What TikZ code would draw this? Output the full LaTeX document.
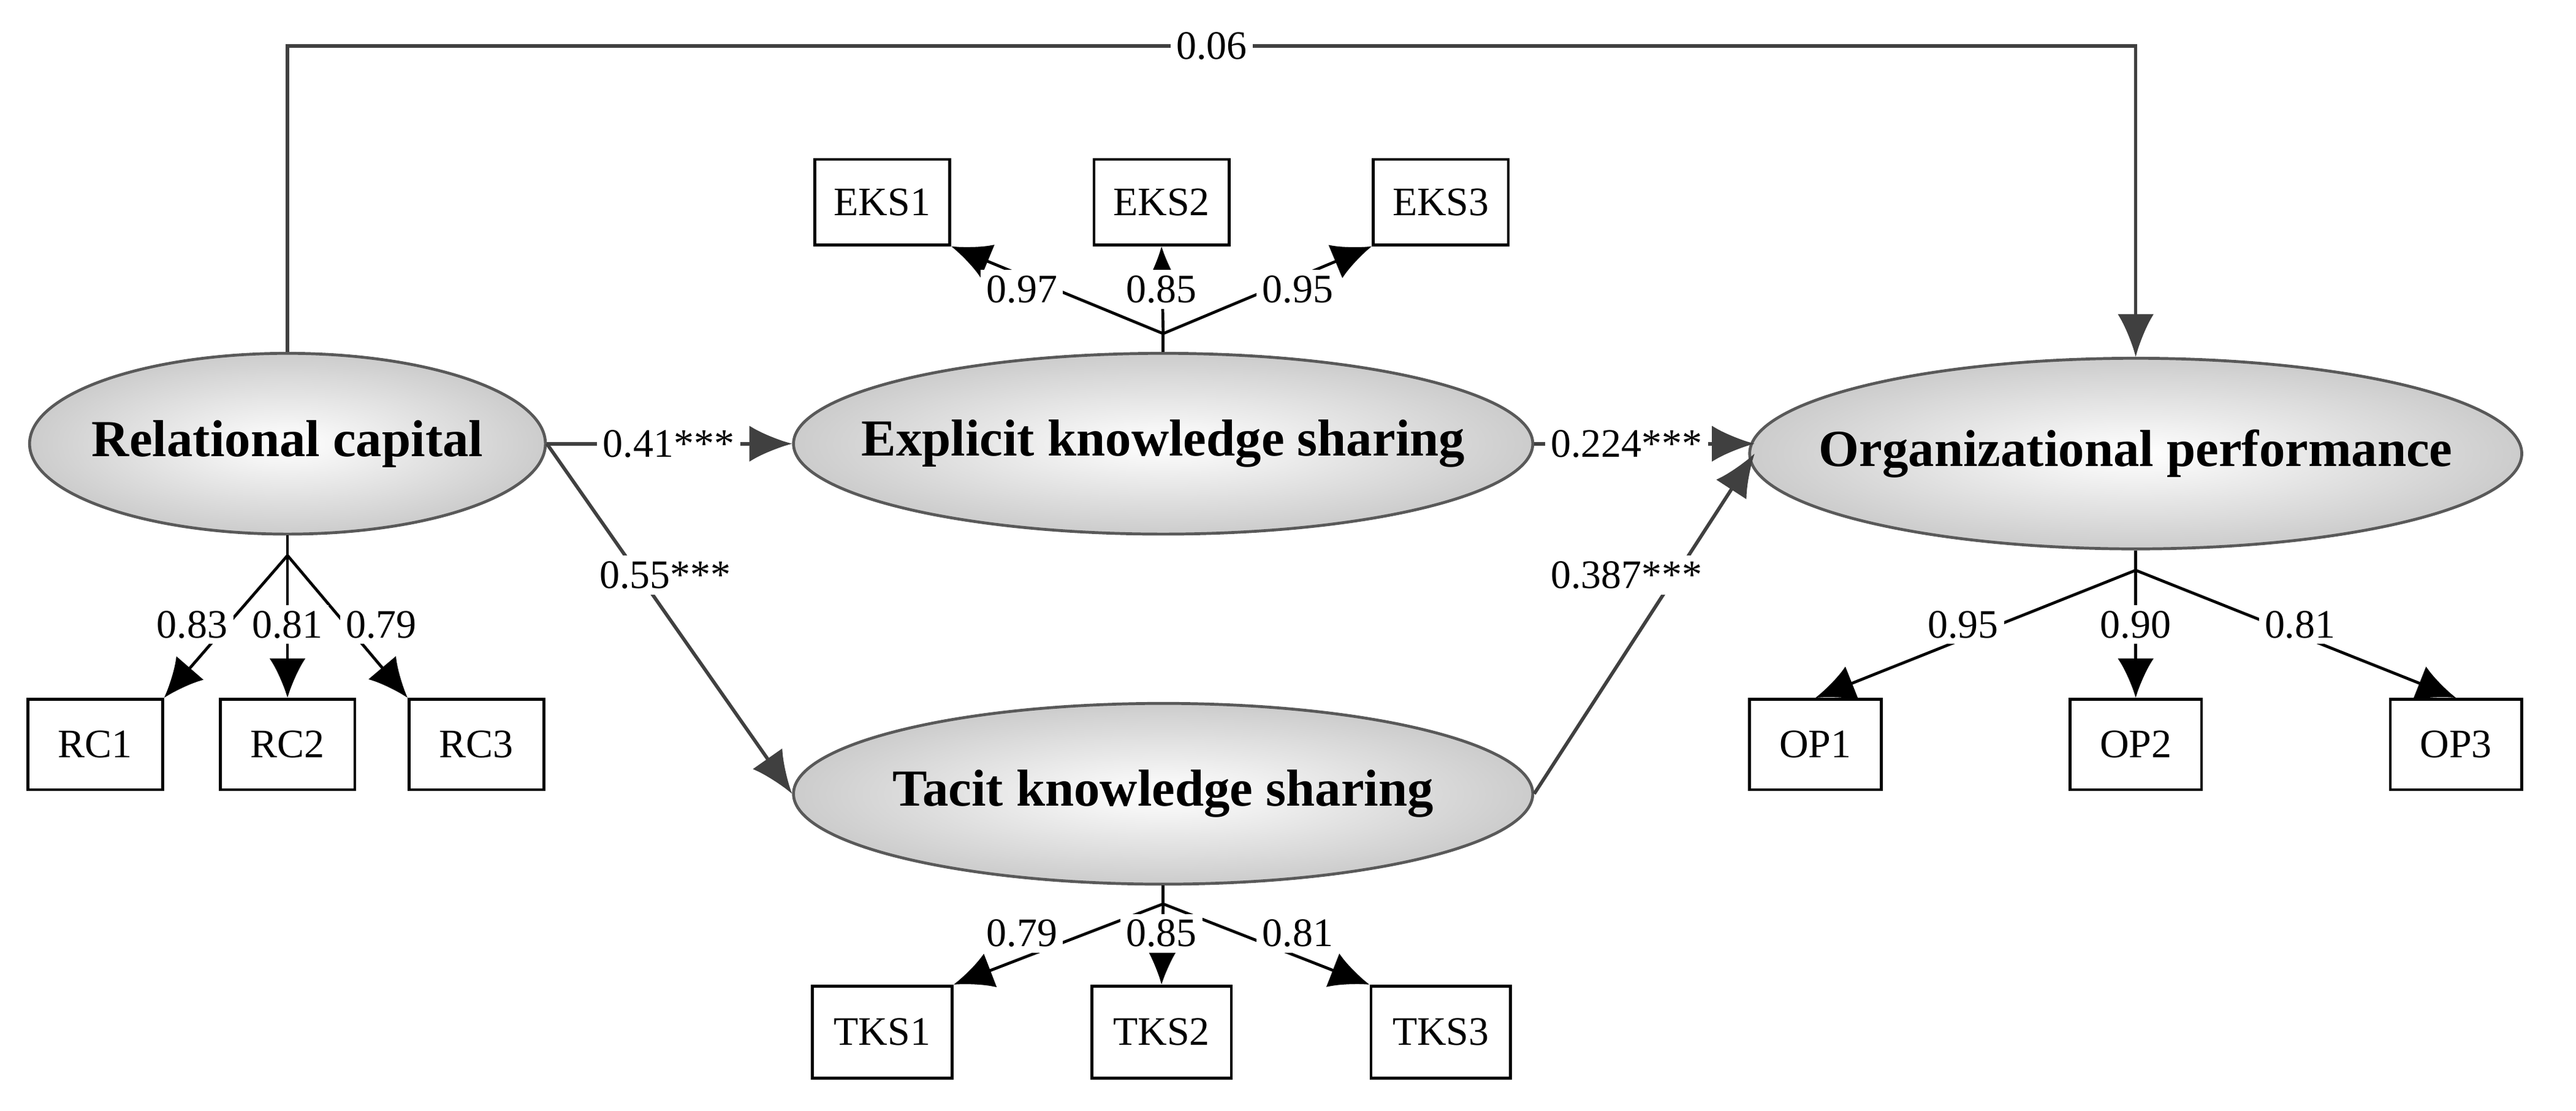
\documentclass[tikz,border=0pt]{standalone}
\usepackage{fontspec}
\setmainfont{Liberation Serif}
\usetikzlibrary{arrows.meta,shapes.geometric}
\begin{document}
\begin{tikzpicture}[x=0.1mm,y=-0.1mm,
 lat/.style={ellipse,draw=gray!70!black,line width=0.5pt,inner xsep=-28*0.1mm,inner ysep=0pt,inner color=white,outer color=gray!40,font=\fontsize{9}{10}\selectfont\bfseries,minimum width=#1},
 box/.style={draw,line width=0.5pt,minimum width=82*0.1mm,minimum height=52*0.1mm,font=\fontsize{7}{8}\selectfont},
 ld/.style={draw,line width=0.5pt,-{Latex[length=2.4mm,width=2.2mm]}},
 st/.style={draw=black!75,line width=0.6pt,-{Latex[length=2.6mm,width=2.2mm]}},
 lab/.style={font=\fontsize{7}{8}\selectfont,inner sep=1pt},
 wlab/.style={lab,fill=white}]
\useasboundingbox (0,0) rectangle (1568,676);
\node[lat=314*0.1mm,minimum height=110*0.1mm] (RC) at (175,270) {Relational capital};
\node[lat=450*0.1mm,minimum height=110*0.1mm] (EKS) at (708,270) {Explicit knowledge sharing};
\node[lat=450*0.1mm,minimum height=110*0.1mm] (TKS) at (708,483) {Tacit knowledge sharing};
\node[lat=470*0.1mm,minimum height=116*0.1mm] (OP) at (1300,276) {Organizational performance};
\node[box] (E1) at (537,123) {EKS1};
\node[box] (E2) at (707,123) {EKS2};
\node[box] (E3) at (877,123) {EKS3};
\node[box,minimum height=55*0.1mm] (R1) at (58,453) {RC1};
\node[box,minimum height=55*0.1mm] (R2) at (175,453) {RC2};
\node[box,minimum height=55*0.1mm] (R3) at (290,453) {RC3};
\node[box,minimum width=85*0.1mm,minimum height=56*0.1mm] (T1) at (537,628) {TKS1};
\node[box,minimum width=85*0.1mm,minimum height=56*0.1mm] (T2) at (707,628) {TKS2};
\node[box,minimum width=85*0.1mm,minimum height=56*0.1mm] (T3) at (877,628) {TKS3};
\node[box,minimum width=80*0.1mm,minimum height=55*0.1mm] (O1) at (1105,453) {OP1};
\node[box,minimum width=80*0.1mm,minimum height=55*0.1mm] (O2) at (1300,453) {OP2};
\node[box,minimum width=80*0.1mm,minimum height=55*0.1mm] (O3) at (1495,453) {OP3};
\coordinate (he) at (708,203);
\coordinate (hr) at (175,338);
\coordinate (ht) at (708,550);
\coordinate (ho) at (1300,347);
% loadings
\draw[line width=0.5pt] (EKS.north) -- (he);
\path[ld] (he) -- (E1.south east);
\path[ld] (he) -- (E2.south);
\path[ld] (he) -- (E3.south west);
\node[wlab] at (622,176) {0.97};
\node[wlab] at (707,176) {0.85};
\node[wlab] at (790,176) {0.95};
\draw[line width=0.5pt] (RC.south) -- (hr);
\path[ld] (hr) -- (R1.north east);
\path[ld] (hr) -- (R2.north);
\path[ld] (hr) -- (R3.north west);
\node[wlab] at (117,380) {0.83};
\node[wlab] at (175,380) {0.81};
\node[wlab] at (232,380) {0.79};
\draw[line width=0.5pt] (TKS.south) -- (ht);
\path[ld] (ht) -- (T1.north east);
\path[ld] (ht) -- (T2.north);
\path[ld] (ht) -- (T3.north west);
\node[wlab] at (622,568) {0.79};
\node[wlab] at (707,568) {0.85};
\node[wlab] at (790,568) {0.81};
\draw[line width=0.5pt] (OP.south) -- (ho);
\path[ld] (ho) -- (O1.north);
\path[ld] (ho) -- (O2.north);
\path[ld] (ho) -- (O3.north);
\node[wlab] at (1195,380) {0.95};
\node[wlab] at (1300,380) {0.90};
\node[wlab] at (1400,380) {0.81};
% structural
\path[st] (RC.north) -- (175,28) -- node[wlab,pos=0.5]{0.06} (1300,28) -- (OP.north);
\path[st] (RC.east) -- (EKS.west);
\node[wlab] at (407,270) {0.41***};
\path[st] (RC.east) -- (TKS.west);
\node[wlab] at (405,350) {0.55***};
\path[st] (EKS.east) -- (1068,270);
\node[wlab] at (990,270) {0.224***};
\path[st] (TKS.east) -- (1068,276);
\node[wlab] at (990,350) {0.387***};
\end{tikzpicture}
\end{document}
